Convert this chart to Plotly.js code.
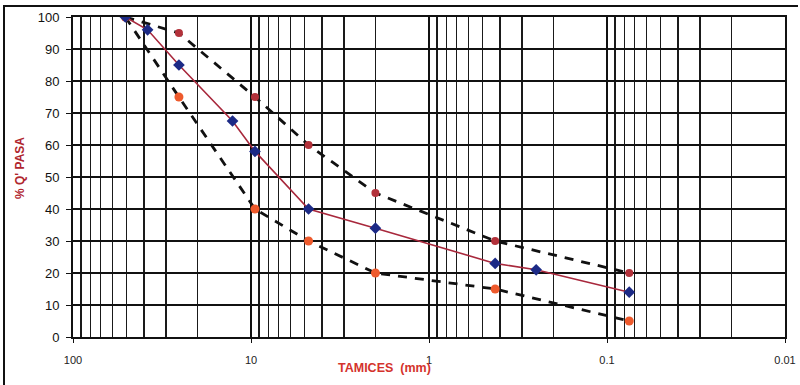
<!DOCTYPE html>
<html>
<head>
<meta charset="utf-8">
<script src="https://cdn.plot.ly/plotly-3.0.1.min.js"></script>
<style>html,body{margin:0;padding:0;background:#fff;}#chart{width:800px;height:385px;}</style>
</head>
<body>
<div id="chart"></div>
<script>
// Sieve sizes (mm) and % passing
const sizesEnvelope = [50.8, 25.4, 9.5, 4.75, 2.0, 0.425, 0.075];
const upperLimit = [100, 95, 75, 60, 45, 30, 20];
const lowerLimit = [100, 75, 40, 30, 20, 15, 5];
const sizesSample = [50.8, 38.1, 25.4, 12.7, 9.5, 4.75, 2.0, 0.425, 0.25, 0.075];
const samplePassing = [100, 96, 85, 67.5, 58, 40, 34, 23, 21, 14];
const yTicks = [0, 10, 20, 30, 40, 50, 60, 70, 80, 90, 100];
const xTitle = "TAMICES&nbsp;&nbsp;(mm)";
const yTitle = "% Q' PASA";

const L = 73, R = 785, T = 17, B = 337;
const W = 800, H = 385;
const px = x => (x - L) / (R - L);
const py = y => (B - y) / (B - T);

const traces = [
  {x: sizesEnvelope, y: upperLimit, mode: 'lines+markers', name: 'upper',
   line: {color: '#111', width: 2.8, dash: '9px,8px'},
   marker: {color: '#b2313a', size: 8, symbol: 'circle'}},
  {x: sizesEnvelope, y: lowerLimit, mode: 'lines+markers', name: 'lower',
   line: {color: '#111', width: 2.8, dash: '9px,8px'},
   marker: {color: '#ee5a2c', size: 9, symbol: 'circle'}},
  {x: sizesSample, y: samplePassing, mode: 'lines+markers', name: 'sample',
   line: {color: '#a8283c', width: 1.6},
   marker: {color: '#1c2a86', size: 9, symbol: 'diamond'}}
];

const layout = {
  width: W, height: H,
  margin: {l: L, r: W - R, t: T, b: H - B},
  paper_bgcolor: '#fff', plot_bgcolor: '#fff',
  showlegend: false,
  font: {family: 'Liberation Sans, Arial, sans-serif', color: '#111'},
  xaxis: {
    type: 'log', range: [2, -2], autorange: false,
    dtick: 1,
    showgrid: true, gridcolor: '#111', gridwidth: 2,
    minor: {dtick: 'D1', showgrid: true, gridcolor: '#1a1a1a', gridwidth: 1.4, ticks: ''},
    showline: true, linecolor: '#111', linewidth: 2, mirror: true,
    ticks: 'outside', ticklen: 4, tickcolor: '#111',
    ticklabelstandoff: 8,
    tickfont: {size: 11, color: '#222'},
    zeroline: false
  },
  yaxis: {
    range: [0, 100], autorange: false,
    tickvals: yTicks,
    showgrid: true, gridcolor: '#111', gridwidth: 2,
    showline: true, linecolor: '#111', linewidth: 2, mirror: true,
    ticks: 'outside', ticklen: 5, tickcolor: '#111',
    ticklabelstandoff: 4,
    tickfont: {size: 13, color: '#111'},
    zeroline: false
  },
  annotations: [
    {text: '<b>' + xTitle + '</b>', xref: 'paper', yref: 'paper',
     x: px(384), y: py(368), showarrow: false,
     font: {size: 12.5, color: '#d4322c'}, xanchor: 'center', yanchor: 'middle'},
    {text: '<b>' + yTitle + '</b>', xref: 'paper', yref: 'paper',
     x: px(20), y: py(168), showarrow: false, textangle: -90,
     font: {size: 12, color: '#b0262e'}, xanchor: 'center', yanchor: 'middle'}
  ],
  shapes: [
    {type: 'line', xref: 'paper', yref: 'paper', x0: px(3), x1: px(798), y0: py(6), y1: py(6),
     line: {color: '#111', width: 2}},
    {type: 'line', xref: 'paper', yref: 'paper', x0: px(4), x1: px(4), y0: py(6), y1: py(385),
     line: {color: '#111', width: 2}}
  ]
};

Plotly.newPlot('chart', traces, layout, {displayModeBar: false, staticPlot: true});
</script>
</body>
</html>
